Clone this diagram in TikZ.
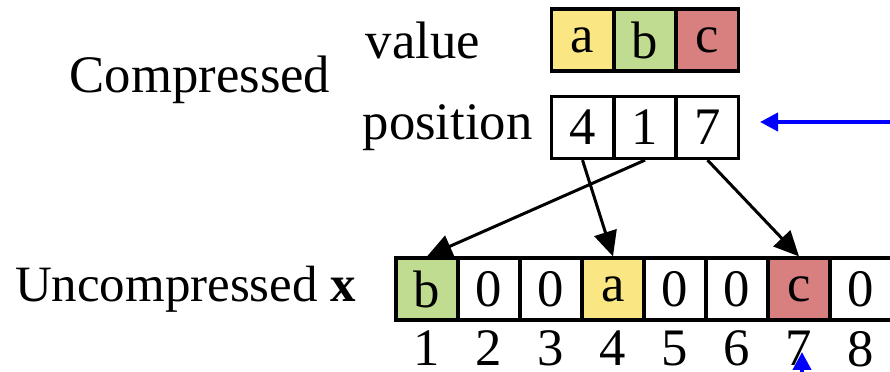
\documentclass[tikz,border=0pt]{standalone}
\usepackage{fontspec}
\setmainfont{Liberation Serif}
\usetikzlibrary{positioning,arrows.meta}
\definecolor{jaune}{RGB}{250,230,130}
\definecolor{vert}{RGB}{192,220,145}
\definecolor{rouge}{RGB}{216,128,128}

\begin{document}
\begin{tikzpicture}[x=0.02cm,y=-0.02cm,
	cellule/.style={draw,line width=0.065cm,minimum width=1.24cm,minimum height=1.24cm,inner sep=0pt,font=\fontsize{30}{36}\selectfont},
	etiq/.style={inner sep=0pt,font=\fontsize{30}{36}\selectfont},
	fleche/.style={-{Triangle[length=0.5cm,width=0.46cm]},line width=0.06cm},
	flechebleue/.style={-{Triangle[length=0.36cm,width=0.36cm]},line width=0.08cm,blue}]
	\useasboundingbox (0,0) rectangle (890,372);
	% Dimensions des cases
	\def\lrg{62.5} \def\pas{62}
%
% Tableaux compressés : valeurs et positions
	\foreach \v/\c [count=\i] in {a/jaune,b/vert,c/rouge}{
		\node[cellule,fill=\c] (v\i) at ({520+\lrg*\i},40) {\v};
	};
	\foreach \p [count=\i] in {4,1,7}{
		\node[cellule] (p\i) at ({520+\lrg*\i},127.5) {\p};
	};
% Vecteur non compressé et ses indices
	\foreach \x/\c [count=\i] in {b/vert,0/white,0/white,a/jaune,0/white,0/white,c/rouge,0/white}{
		\node[cellule,fill=\c] (u\i) at ({427+\pas*(\i-1)},289) {\x};
		\node[etiq,below=0.18cm of u\i] (n\i) {\i};
	};
% Légendes
	\node[etiq,left=0.34cm of p1] (position) {position};
	\node[etiq,anchor=west] (valeur) at ([xshift=0.06cm]position.west |- v1) {value};
	\node[etiq] (comp) at (200,80) {Compressed};
	\node[etiq,font=\fontsize{29}{35}\selectfont,left=0.76cm of u1] (uncomp) {Uncompressed \textbf{x}};
% Flèches de décompression
	\draw[fleche] (p1.south) -- (u4.north);
	\draw[fleche] (p2.south) -- (u1.north);
	\draw[fleche] (p3.south) -- (u7.north);
% Flèches bleues
	\coordinate (bd) at (890,122); \coordinate (bf) at (760,122);
	\draw[flechebleue] (bd) -- (bf);
	\coordinate (hd) at (802,372); \coordinate (hf) at (802,352);
	\draw[flechebleue] (hd) -- (hf);
\end{tikzpicture}
\end{document}
